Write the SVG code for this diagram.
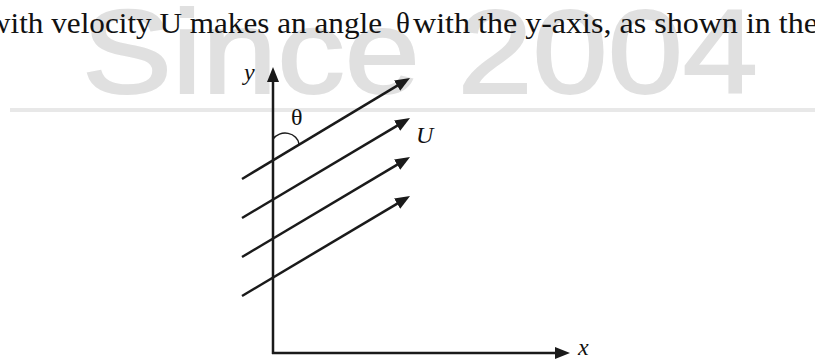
<svg xmlns="http://www.w3.org/2000/svg" width="815" height="360" viewBox="0 0 815 360">
  <style>
    .wm { font-family: "Liberation Sans", Arial, sans-serif; font-size: 119px; fill: #e0e0e0; stroke: #e0e0e0; stroke-width: 2; }
    .cap { font-family: "Liberation Serif", "Times New Roman", serif; font-size: 29px; fill: #111; }
    .lbl { font-family: "Liberation Serif", "Times New Roman", serif; font-size: 24px; font-style: italic; fill: #111; }
    .sym { font-family: "Liberation Serif", "Times New Roman", serif; font-size: 24px; fill: #111; }
    .ln { stroke: #1a1a1a; stroke-width: 2.5; fill: none; }
  </style>
  <defs>
    <marker id="ah" markerUnits="userSpaceOnUse" markerWidth="15" markerHeight="12" refX="6" refY="6" orient="auto">
      <path d="M0,0 L15,6 L0,12 z" fill="#1a1a1a"/>
    </marker>
  </defs>

  <g id="watermark">
    <text class="wm" x="82" y="93" textLength="676" lengthAdjust="spacingAndGlyphs">Since 2004</text>
    <rect x="10" y="108" width="805" height="4" fill="#e8e8e8"/>
  </g>

  <g id="caption">
    <text class="cap" y="33"><tspan x="-12" textLength="394" lengthAdjust="spacingAndGlyphs">with velocity U makes an angle</tspan><tspan x="396">θ</tspan><tspan x="413" textLength="405" lengthAdjust="spacingAndGlyphs">with the y-axis, as shown in the</tspan></text>
  </g>

  <g id="connectors">
    <line id="y-axis" class="ln" x1="273" y1="354" x2="273" y2="76" marker-end="url(#ah)"/>
    <line id="x-axis" class="ln" x1="272" y1="353" x2="561" y2="353" marker-end="url(#ah)"/>
    <line class="ln" x1="242" y1="179" x2="402.3" y2="82.6" marker-end="url(#ah)"/>
    <line class="ln" x1="242" y1="218" x2="402.3" y2="122.6" marker-end="url(#ah)"/>
    <line class="ln" x1="242" y1="257" x2="402.3" y2="161.6" marker-end="url(#ah)"/>
    <line class="ln" x1="242" y1="296" x2="402.3" y2="200.6" marker-end="url(#ah)"/>
    <path id="angle-arc" d="M273,139 A14,12 0 0 1 299,144" stroke="#1a1a1a" stroke-width="1.5" fill="none"/>
  </g>

  <g id="label-y"><text class="lbl" x="244" y="80">y</text></g>
  <g id="label-x"><text class="lbl" x="578" y="355">x</text></g>
  <g id="label-theta"><text class="sym" x="291" y="125">θ</text></g>
  <g id="label-U"><text class="lbl" x="416" y="143">U</text></g>
</svg>
